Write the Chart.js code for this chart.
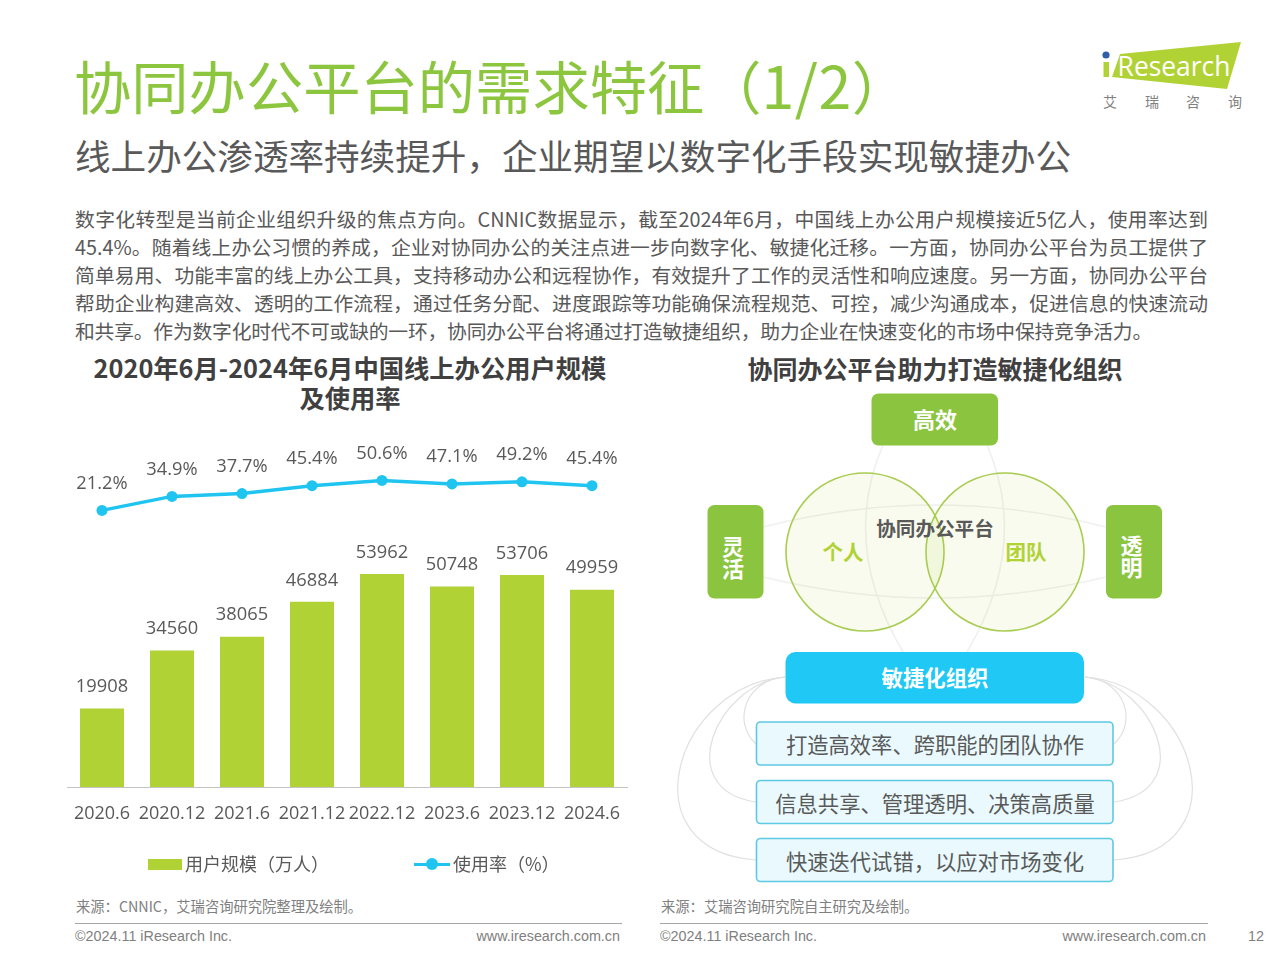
<!DOCTYPE html>
<html lang="zh-CN">
<head>
<meta charset="utf-8">
<title>协同办公平台的需求特征</title>
<script src="https://cdn.jsdelivr.net/npm/chart.js@4/dist/chart.umd.min.js"></script>
<style>
html, body { margin: 0; padding: 0; background: #fff; }
body { width: 1280px; height: 960px; position: relative; overflow: hidden; font-family: "Noto Sans CJK SC", sans-serif; color: #595959; }
.t { position: absolute; white-space: nowrap; line-height: 1; }
#titulo { left: 74px; top: 51px; font-size: 57.3px; line-height: 66px; font-weight: 400; color: #8cc63f; }
#titulo b { font-weight: 400; letter-spacing: 0.5px; font-size: 59px; }
#subtitulo { left: 75px; top: 133px; font-size: 35.6px; line-height: 44px; font-weight: 400; }
.linha { position: absolute; left: 75px; width: 1133px; font-size: 19.8px; line-height: 28px; white-space: nowrap; text-align: justify; text-align-last: justify; text-justify: inter-character; }
.linha.ultima { text-align-last: left; letter-spacing: -0.2px; }
.tit-graf { position: absolute; text-align: center; font-weight: 700; color: #404040; font-size: 25.3px; line-height: 30px; white-space: nowrap; }
#graficoUsuarios { position: absolute; left: 60px; top: 430px; }
.fonte { font-size: 14.3px; color: #808080; top: 898px; line-height: 16px; }
.regua { position: absolute; top: 923px; height: 1px; background: #a6a6a6; }
.rodape { font-family: "Liberation Sans", sans-serif; font-size: 14.35px; color: #808080; top: 928px; line-height: 16px; }
#legenda { position: absolute; left: 0; top: 852px; width: 640px; height: 24px; font-size: 18px; }
#legenda span { position: absolute; top: -1px; line-height: 24px; white-space: nowrap; }
#legenda i { position: absolute; display: block; }
svg { position: absolute; left: 0; top: 0; }
svg text { font-family: "Noto Sans CJK SC", sans-serif; text-anchor: middle; dominant-baseline: central; }
</style>
</head>
<body>

<svg width="1280" height="960" viewBox="0 0 1280 960">
  <!-- logo -->
  <polygon points="1120,54 1241,42 1227,89 1112,77" fill="#b1d234"/>
  <rect x="1103.5" y="62" width="5.5" height="15" fill="#b1d234"/>
  <circle cx="1106" cy="55" r="3.6" fill="#2f5fa8"/>
  <text x="1174" y="65.5" fill="#fff" style="font-family:'Open Sans',sans-serif;font-size:26.4px;font-weight:400">Research</text>
  <g fill="#808080" font-size="14">
    <text x="1110" y="101">艾</text><text x="1152" y="101">瑞</text><text x="1193" y="101">咨</text><text x="1235" y="101">询</text>
  </g>

  <!-- linhas de fundo do diagrama -->
  <g fill="none" stroke="#f0f0f0" stroke-width="1.6">
    <path d="M883,445 Q840,545 903,652"/>
    <path d="M987,445 Q1030,545 967,652"/>
    <path d="M763,527 Q935,483 1106,527"/>
    <path d="M763,577 Q935,619 1106,577"/>
  </g>
  <g fill="none" stroke="#e0e0e0" stroke-width="1.2">
    <path d="M785,677 C745,680 732,722 756,744"/>
    <path d="M785,677 C715,685 672,790 756,802"/>
    <path d="M785,677 C675,685 625,850 756,860"/>
    <path d="M1085,677 C1125,680 1138,722 1114,744"/>
    <path d="M1085,677 C1155,685 1198,790 1114,802"/>
    <path d="M1085,677 C1195,685 1245,850 1114,860"/>
  </g>

  <circle cx="865" cy="552" r="79" fill="#b1d234" fill-opacity="0.09" stroke="#a9cc52" stroke-width="1.6"/>
  <circle cx="1005" cy="552" r="79" fill="#b1d234" fill-opacity="0.09" stroke="#a9cc52" stroke-width="1.6"/>

  <g fill="#8bc53f">
    <rect x="871.5" y="393.5" width="126.5" height="52" rx="7"/>
    <rect x="707.5" y="505" width="56" height="93.5" rx="7"/>
    <rect x="1106" y="505" width="56" height="93.5" rx="7"/>
  </g>
  <g fill="#fff" font-size="22" font-weight="700">
    <text x="935" y="418">高效</text>
    <text x="733" y="545">灵</text><text x="733" y="566.5">活</text>
    <text x="1131.5" y="544">透</text><text x="1131.5" y="565.5">明</text>
  </g>
  <text x="935" y="527" fill="#595959" font-size="19.6" font-weight="700">协同办公平台</text>
  <text x="843" y="551" fill="#b1d234" font-size="20.5" font-weight="700">个人</text>
  <text x="1026" y="551" fill="#b1d234" font-size="20.5" font-weight="700">团队</text>

  <rect x="785.5" y="652" width="298.5" height="51.5" rx="10" fill="#1fc8f5"/>
  <text x="935" y="676" fill="#fff" font-size="21.4" font-weight="700">敏捷化组织</text>

  <g fill="#e9f9fd" stroke="#5ec9e4" stroke-width="1.6">
    <rect x="756.5" y="722" width="356.5" height="43" rx="4"/>
    <rect x="756.5" y="780.5" width="356.5" height="43" rx="4"/>
    <rect x="756.5" y="838.5" width="356.5" height="43" rx="4"/>
  </g>
  <g fill="#595959" font-size="21.3">
    <text x="935" y="743">打造高效率、跨职能的团队协作</text>
    <text x="935" y="802">信息共享、管理透明、决策高质量</text>
    <text x="935" y="860">快速迭代试错，以应对市场变化</text>
  </g>
</svg>

<div class="t" id="titulo">协同办公平台的需求特征（<b>1/2</b>）</div>
<div class="t" id="subtitulo">线上办公渗透率持续提升，企业期望以数字化手段实现敏捷办公</div>

<div class="linha" style="top:205px">数字化转型是当前企业组织升级的焦点方向。CNNIC数据显示，截至2024年6月，中国线上办公用户规模接近5亿人，使用率达到</div>
<div class="linha" style="top:233px">45.4%。随着线上办公习惯的养成，企业对协同办公的关注点进一步向数字化、敏捷化迁移。一方面，协同办公平台为员工提供了</div>
<div class="linha" style="top:261px">简单易用、功能丰富的线上办公工具，支持移动办公和远程协作，有效提升了工作的灵活性和响应速度。另一方面，协同办公平台</div>
<div class="linha" style="top:289px">帮助企业构建高效、透明的工作流程，通过任务分配、进度跟踪等功能确保流程规范、可控，减少沟通成本，促进信息的快速流动</div>
<div class="linha ultima" style="top:317px">和共享。作为数字化时代不可或缺的一环，协同办公平台将通过打造敏捷组织，助力企业在快速变化的市场中保持竞争活力。</div>

<div class="tit-graf" style="left:60px;width:580px;top:352px">2020年6月-2024年6月中国线上办公用户规模<br>及使用率</div>
<div class="tit-graf" style="left:660px;width:550px;top:353px;font-size:25px">协同办公平台助力打造敏捷化组织</div>

<canvas id="graficoUsuarios" width="580" height="450" style="width:580px;height:450px"></canvas>
<div id="legenda"></div>

<div class="t fonte" style="left:76px">来源：CNNIC，艾瑞咨询研究院整理及绘制。</div>
<div class="t fonte" style="left:661px">来源：艾瑞咨询研究院自主研究及绘制。</div>
<div class="regua" style="left:75px;width:547px"></div>
<div class="regua" style="left:660px;width:548px"></div>
<div class="t rodape" style="left:75px">©2024.11 iResearch Inc.</div>
<div class="t rodape" style="right:660px">www.iresearch.com.cn</div>
<div class="t rodape" style="left:660px">©2024.11 iResearch Inc.</div>
<div class="t rodape" style="right:74px">www.iresearch.com.cn</div>
<div class="t rodape" style="left:1248px">12</div>

<script>
var periodos = ['2020.6', '2020.12', '2021.6', '2021.12', '2022.12', '2023.6', '2023.12', '2024.6'];
var usuarios = [19908, 34560, 38065, 46884, 53962, 50748, 53706, 49959];
var taxaUso = [21.2, 34.9, 37.7, 45.4, 50.6, 47.1, 49.2, 45.4];
var nomeUsuarios = '用户规模（万人）';
var nomeTaxa = '使用率（%）';

var corBarra = '#b1d234';
var corLinha = '#1fc4f0';
var corTexto = '#595959';
var fonteGrafico = '"Open Sans", "Noto Sans CJK SC", sans-serif';

// rotulos de valor acima das barras e dos pontos
var pluginRotulos = {
    id: 'rotulos',
    afterDatasetsDraw: function(chart) {
        var ctx = chart.ctx;
        ctx.save();
        ctx.font = '18.3px ' + fonteGrafico;
        ctx.fillStyle = corTexto;
        ctx.textAlign = 'center';
        ctx.textBaseline = 'middle';
        chart.getDatasetMeta(0).data.forEach(function(el, i) {
            ctx.fillText(String(usuarios[i]), el.x, el.y - 21.5);
        });
        chart.getDatasetMeta(1).data.forEach(function(el, i) {
            ctx.fillText(taxaUso[i].toFixed(1) + '%', el.x, el.y - 27);
        });
        ctx.restore();
    }
};

var grafico = new Chart(document.getElementById('graficoUsuarios').getContext('2d'), {
    type: 'bar',
    data: {
        labels: periodos,
        datasets: [{
            type: 'bar',
            label: nomeUsuarios,
            data: usuarios,
            backgroundColor: corBarra,
            yAxisID: 'y',
            categoryPercentage: 1,
            barPercentage: 44 / 70,
            order: 2
        }, {
            type: 'line',
            label: nomeTaxa,
            data: taxaUso,
            borderColor: corLinha,
            backgroundColor: corLinha,
            borderWidth: 3.5,
            tension: 0,
            pointRadius: 5.5,
            pointBackgroundColor: corLinha,
            pointBorderWidth: 0,
            yAxisID: 'y2',
            order: 1
        }]
    },
    options: {
        responsive: false,
        animation: false,
        layout: { autoPadding: false, padding: { left: 7, right: 13, top: 0, bottom: 0 } },
        plugins: {
            legend: { display: false },
            tooltip: { enabled: false }
        },
        scales: {
            x: {
                grid: { display: false, drawTicks: false },
                border: { color: '#c4c4c4', width: 1 },
                ticks: {
                    color: corTexto,
                    font: { family: fonteGrafico, size: 18 },
                    autoSkip: false,
                    maxRotation: 0,
                    minRotation: 0,
                    padding: 16
                },
                afterFit: function(escala) {
                    escala.height = 93;
                    escala.paddingLeft = 0;
                    escala.paddingRight = 0;
                }
            },
            y: { display: false, min: 0, max: 90400 },
            y2: { display: false, min: -250, max: 100 }
        }
    },
    plugins: [pluginRotulos]
});

// legenda em html, com os nomes das series do grafico
function montarLegenda() {
    var legenda = document.getElementById('legenda');
    var conjuntos = grafico.data.datasets;
    legenda.innerHTML =
        '<i style="left:148px;top:7px;width:34px;height:11px;background:' + conjuntos[0].backgroundColor + '"></i>' +
        '<span style="left:185px">' + conjuntos[0].label + '</span>' +
        '<i style="left:414px;top:10.5px;width:36px;height:3.5px;background:' + conjuntos[1].borderColor + '"></i>' +
        '<i style="left:426px;top:6px;width:12px;height:12px;border-radius:50%;background:' + conjuntos[1].borderColor + '"></i>' +
        '<span style="left:453px">' + conjuntos[1].label + '</span>';
}
montarLegenda();
</script>
</body>
</html>
